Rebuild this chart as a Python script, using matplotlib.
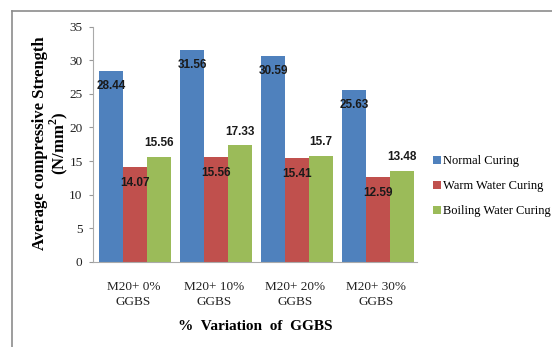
import matplotlib
matplotlib.use("Agg")
import matplotlib.pyplot as plt
import numpy as np
from matplotlib.lines import Line2D

categories = ["M20+ 0%\nGGBS", "M20+ 10%\nGGBS", "M20+ 20%\nGGBS", "M20+ 30%\nGGBS"]
series_names = ["Normal Curing", "Warm Water Curing", "Boiling Water Curing"]
normal = [28.44, 31.56, 30.59, 25.63]
warm = [14.07, 15.56, 15.41, 12.59]
boiling = [15.56, 17.33, 15.7, 13.48]
yticks = [0, 5, 10, 15, 20, 25, 30, 35]

colors = ["#4F81BD", "#C0504D", "#9BBB59"]
serif = ["Liberation Serif", "DejaVu Serif"]
sans = ["Liberation Sans", "DejaVu Sans"]

fig = plt.figure(figsize=(5.52, 3.47), dpi=100)
ax = fig.add_axes([93 / 552, 1 - 262 / 347, 324 / 552, 235.5 / 347])

x = np.arange(len(categories))
width = 0.296
values = [normal, warm, boiling]
for j, (name, vals) in enumerate(zip(series_names, values)):
    pos = x + (j - 1) * width + 0.02
    bars = ax.bar(pos, vals, width, color=colors[j], label=name, zorder=2)
    for b, v in zip(bars, vals):
        cx = b.get_x() + b.get_width() / 2
        # boiling-water labels sit above the bar, the others just inside the top
        dy = 10 if j == 2 else -11
        ax.annotate(f"{v:g}", (cx, v), xytext=(0, dy), textcoords="offset points",
                    ha="center", va="center", fontsize=8.5, fontweight="bold",
                    family=sans, color="#1a1a1a")

ax.set_xlim(-0.5, 3.5)
ax.set_ylim(0, 35)
ax.set_yticks(yticks)
ax.set_xticks(x)
ax.set_xticklabels(categories, family=serif, fontsize=9.5, color="#222222", linespacing=1.25)
for lbl in ax.get_yticklabels():
    lbl.set_family(serif)
    lbl.set_fontsize(9.5)
    lbl.set_color("#222222")
ax.tick_params(axis="x", length=0, pad=14)
ax.tick_params(axis="y", length=3, color="#999999", pad=4.5)
for side in ["top", "right"]:
    ax.spines[side].set_visible(False)
for side in ["left", "bottom"]:
    ax.spines[side].set_color("#aaaaaa")

ax.set_xlabel("%  Variation  of  GGBS", family=serif, fontsize=11, fontweight="bold", labelpad=9)
ax.set_ylabel("Average compressive Strength\n(N/mm$^\\mathregular{2}$)", family=serif,
              fontsize=12, fontweight="bold", linespacing=0.95)
ax.yaxis.set_label_coords(-0.072, 0.505)

ax.legend(loc="upper left", bbox_to_anchor=(1.035, 0.475), frameon=False,
          prop={"family": serif, "size": 9}, handlelength=0.6, handleheight=0.6,
          handletextpad=0.2, labelspacing=1.05, borderaxespad=0)

# outer frame of the chart area
fig.add_artist(Line2D([12 / 552, 12 / 552], [0, 1 - 11 / 347], transform=fig.transFigure,
                      color="#8c8c8c", lw=1.2))
fig.add_artist(Line2D([12 / 552, 1], [1 - 11 / 347, 1 - 11 / 347], transform=fig.transFigure,
                      color="#8c8c8c", lw=1.2))

fig.savefig("out.png", dpi=100)
